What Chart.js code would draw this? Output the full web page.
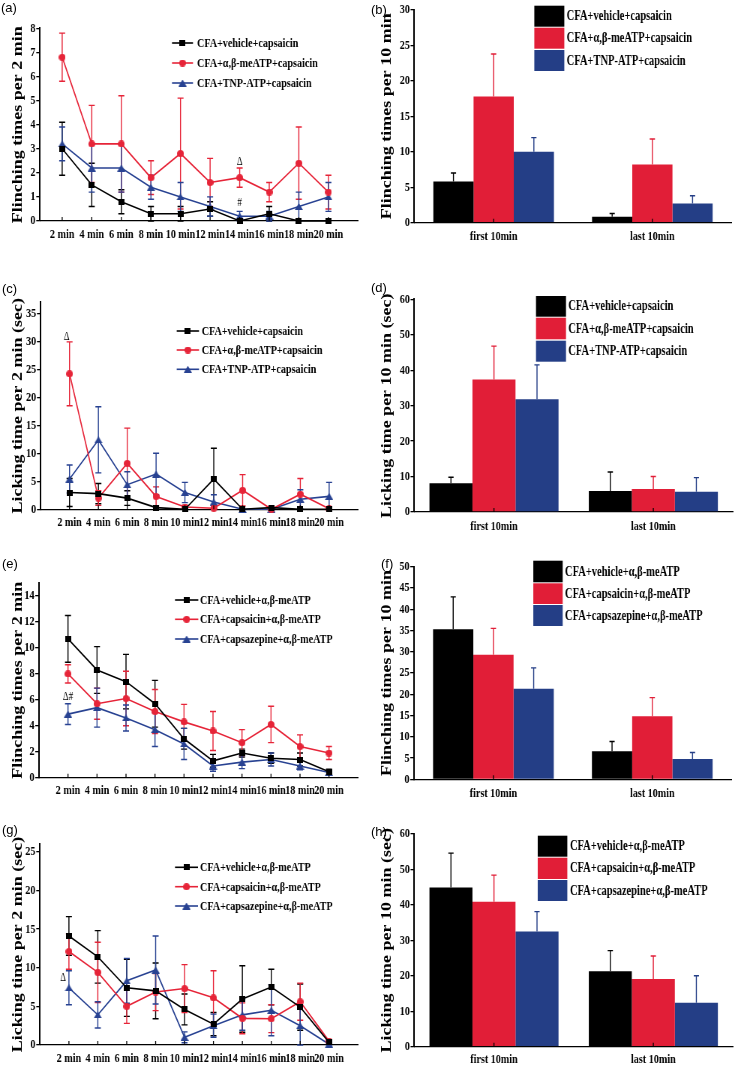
<!DOCTYPE html>
<html><head><meta charset="utf-8">
<script src="https://cdn.jsdelivr.net/npm/chart.js@4.4.0/dist/chart.umd.min.js"></script>
<style>
html,body{margin:0;padding:0;background:#fff;}
body{width:735px;height:1065px;position:relative;overflow:hidden;}
.pl{position:absolute;font-family:'Liberation Sans',Arial,sans-serif;font-size:13px;color:#000;line-height:15px;}
canvas{position:absolute;transform-origin:0 0;}
</style></head><body>
<script>
// ---------------- DATA ----------------
const minutes = [2,4,6,8,10,12,14,16,18,20];
const timeLabels = ['2 min','4 min','6 min','8 min','10 min','12 min','14 min','16 min','18 min','20 min'];
const periodLabels = ['first 10min','last 10min'];
const namesCap = ['CFA+vehicle+capsaicin','CFA+α,β-meATP+capsaicin','CFA+TNP-ATP+capsaicin'];
const namesMe = ['CFA+vehicle+α,β-meATP','CFA+capsaicin+α,β-meATP','CFA+capsazepine+α,β-meATP'];

// (a) flinching per 2 min
const a_vehicle = [3.0,1.5,0.8,0.3,0.3,0.5,0.0,0.3,0.0,0.0];
const a_vehicleErr = [1.1,0.9,0.5,0.3,0.3,0.3,0.0,0.3,0.0,0.0];
const a_meATP = [6.8,3.2,3.2,1.8,2.8,1.6,1.8,1.2,2.4,1.2];
const a_meATPErr = [1.0,1.6,2.0,0.7,2.3,1.0,0.4,0.4,1.5,0.7];
const a_TNP = [3.2,2.2,2.2,1.4,1.0,0.6,0.2,0.2,0.6,1.0];
const a_TNPErr = [0.7,1.0,1.0,0.5,0.6,0.4,0.2,0.2,0.6,0.6];
const a_marks = [{x:14,y:2.46,t:'Δ'},{x:14,y:0.75,t:'#'}];

// (b) flinching per 10 min
const b_vehicle = [5.8,0.85], b_vehicleErr = [1.2,0.45];
const b_meATP = [17.8,8.2], b_meATPErr = [6.0,3.6];
const b_TNP = [10.0,2.7], b_TNPErr = [2.0,1.1];

// (c) licking per 2 min
const c_vehicle = [3.0,2.8,2.0,0.3,0.0,5.4,0.0,0.3,0.0,0.0];
const c_vehicleErr = [2.5,1.8,1.3,0.3,0.0,5.5,0.0,0.2,0.0,0.0];
const c_meATP = [24.2,2.0,8.2,2.3,0.4,0.2,3.4,0.0,2.7,0.1];
const c_meATPErr = [5.7,1.3,6.3,1.7,0.3,0.2,2.8,0.0,2.8,0.1];
const c_TNP = [5.4,12.4,4.4,6.3,3.0,1.3,0.0,0.0,1.8,2.3];
const c_TNPErr = [2.5,5.9,2.3,3.7,1.8,1.3,0.0,0.0,1.7,2.5];
const c_marks = [{x:1.8,y:30.8,t:'Δ'}];

// (d) licking per 10 min
const d_vehicle = [8.1,5.9], d_vehicleErr = [1.7,5.4];
const d_meATP = [37.4,6.5], d_meATPErr = [9.4,3.5];
const d_TNP = [31.8,5.7], d_TNPErr = [9.7,4.0];

// (e) flinching per 2 min, meATP
const e_vehicle = [10.7,8.3,7.4,5.7,3.0,1.3,1.9,1.5,1.4,0.45];
const e_vehicleErr = [1.8,1.8,2.1,1.8,0.8,0.5,0.3,0.4,0.5,0.2];
const e_capsaicin = [8.0,5.7,6.1,5.1,4.3,3.6,2.7,4.1,2.4,1.9];
const e_capsaicinErr = [0.7,1.2,2.1,1.7,1.35,1.5,1.0,1.4,0.9,0.5];
const e_capsazepine = [4.9,5.4,4.6,3.7,2.6,0.9,1.2,1.4,0.9,0.4];
const e_capsazepineErr = [0.8,1.5,1.0,1.3,1.2,0.4,0.5,0.5,0.3,0.2];
const e_marks = [{x:2,y:6.25,t:'Δ#'}];

// (f) flinching per 10 min, meATP
const f_vehicle = [35.3,6.6], f_vehicleErr = [7.6,2.3];
const f_capsaicin = [29.3,14.8], f_capsaicinErr = [6.2,4.4];
const f_capsazepine = [21.3,4.8], f_capsazepineErr = [4.9,1.5];

// (g) licking per 2 min, meATP
const g_vehicle = [14.1,11.4,7.4,7.0,4.6,2.7,5.95,7.5,4.9,0.35];
const g_vehicleErr = [2.5,3.4,3.7,3.6,2.0,1.5,4.3,2.3,3.0,0.2];
const g_capsaicin = [12.1,9.4,5.0,6.85,7.3,6.1,3.45,3.4,5.6,0.5];
const g_capsaicinErr = [2.3,3.9,2.2,2.4,3.1,3.5,2.0,1.8,2.4,0.2];
const g_capsazepine = [7.4,3.9,8.3,9.7,1.0,2.5,3.9,4.5,2.5,0.1];
const g_capsazepineErr = [2.2,1.7,2.9,4.4,0.7,1.5,2.0,3.3,2.5,0.1];
const g_marks = [{x:1.6,y:8.75,t:'Δ'}];

// (h) licking per 10 min, meATP
const h_vehicle = [44.9,21.3], h_vehicleErr = [9.7,5.8];
const h_capsaicin = [40.9,19.1], h_capsaicinErr = [7.5,6.5];
const h_capsazepine = [32.5,12.4], h_capsazepineErr = [5.6,7.6];

// ---------------- STYLE ----------------
const SERIF = "'Liberation Serif','Times New Roman',serif";
const S = 0.75; // horizontal condensing of the figure
const LINE_COL = ['#000000','rgb(230,36,56)','rgb(40,66,146)'];
const BAR_COL = ['#000000','rgb(225,30,55)','rgb(36,62,134)'];
const MARKERS = ['rect','circle','triangle'];

function markerImage(shape, color, dw, dh, sx) {
  const cw = Math.max(1, Math.round(dw / sx)), ch = dh;
  const c = document.createElement('canvas');
  c.width = cw; c.height = ch;
  const g = c.getContext('2d');
  g.fillStyle = color;
  if (shape === 'rect') g.fillRect(0, 0, cw, ch);
  else if (shape === 'circle') { g.beginPath(); g.ellipse(cw/2, ch/2, cw/2, ch/2, 0, 0, Math.PI*2); g.fill(); }
  else { g.beginPath(); g.moveTo(cw/2, 0); g.lineTo(cw, ch); g.lineTo(0, ch); g.closePath(); g.fill(); }
  return c;
}
const MARK_SIZE = {rect:[6,6], circle:[7,7], triangle:[8,7]};

const errPlugin = {
  id: 'errbars',
  beforeDatasetsDraw(chart) {
    const ctx = chart.ctx, ys = chart.scales.y, area = chart.chartArea;
    const isBar = chart.config.type === 'bar';
    chart.data.datasets.forEach((ds, di) => {
      if (!ds.errors) return;
      const meta = chart.getDatasetMeta(di);
      ctx.save();
      ctx.strokeStyle = ds.errColor; ctx.lineWidth = 1.4;
      meta.data.forEach((el, i) => {
        const raw = ds.data[i]; const v = (typeof raw === 'object') ? raw.y : raw;
        const e = ds.errors[i]; if (!e) return;
        const x = el.x;
        const yt = ys.getPixelForValue(v + e);
        const yb = isBar ? ys.getPixelForValue(v) : Math.min(area.bottom, ys.getPixelForValue(v - e));
        const cap = isBar ? 3.5 : 4;
        ctx.beginPath();
        ctx.moveTo(x, yt); ctx.lineTo(x, yb);
        ctx.moveTo(x - cap, yt); ctx.lineTo(x + cap, yt);
        if (!isBar && ys.getPixelForValue(v - e) <= area.bottom) { ctx.moveTo(x - cap, yb); ctx.lineTo(x + cap, yb); }
        ctx.stroke();
      });
      ctx.restore();
    });
  }
};

const decoPlugin = {
  id: 'deco',
  afterDraw(chart, args, o) {
    const ctx = chart.ctx, xs = chart.scales.x, ys = chart.scales.y;
    const area = chart.chartArea;
    ctx.save();
    // inward x ticks
    ctx.strokeStyle = '#000'; ctx.lineWidth = 1.3;
    ctx.beginPath();
    xs.ticks.forEach((t, i) => {
      const px = xs.getPixelForTick(i);
      ctx.moveTo(px, area.bottom); ctx.lineTo(px, area.bottom - 4);
    });
    ctx.stroke();
    // legend
    const lg = o.legend;
    chart.data.datasets.forEach((ds, i) => {
      if (lg.kind === 'line') {
        const y = o.cy(lg.rows[i]);
        const x1 = o.cx(lg.x1), x2 = o.cx(lg.x2);
        ctx.strokeStyle = ds.borderColor; ctx.lineWidth = 1.6;
        ctx.beginPath(); ctx.moveTo(x1, y); ctx.lineTo(x2, y); ctx.stroke();
        const img = ds.pointStyle;
        ctx.drawImage(img, (x1 + x2)/2 - img.width/2, y - img.height/2);
        ctx.fillStyle = '#000';
        ctx.font = 'bold ' + lg.font + 'px ' + SERIF;
        ctx.textBaseline = 'middle'; ctx.textAlign = 'left';
        ctx.fillText(ds.label, o.cx(lg.tx), y + 0.5);
      } else {
        const r = lg.rows[i];
        const x1 = o.cx(lg.x1), x2 = o.cx(lg.x2);
        ctx.fillStyle = ds.backgroundColor;
        ctx.fillRect(x1, o.cy(r[0]), x2 - x1, r[1] - r[0]);
        ctx.fillStyle = '#000';
        ctx.font = 'bold ' + lg.font + 'px ' + SERIF;
        ctx.textBaseline = 'middle'; ctx.textAlign = 'left';
        ctx.fillText(ds.label, o.cx(lg.tx), o.cy((r[0] + r[1]) / 2) + 0.5);
      }
    });
    // annotations
    (o.marks || []).forEach(m => {
      ctx.fillStyle = '#000';
      ctx.font = '12px ' + SERIF;
      ctx.textAlign = 'center'; ctx.textBaseline = 'middle';
      ctx.fillText(m.t, xs.getPixelForValue(m.x), ys.getPixelForValue(m.y));
    });
    ctx.restore();
  }
};

function build(p) {
  const wu = Math.round(p.w / S);
  const sx = p.w / wu;
  const c = document.createElement('canvas');
  c.width = wu; c.height = p.h;
  Object.assign(c.style, {left: p.x + 'px', top: p.y + 'px', width: wu + 'px', height: p.h + 'px', transform: 'scaleX(' + sx + ')'});
  document.body.appendChild(c);
  const L = (p.plot[0] - p.x) / sx, R = (p.plot[2] - p.x) / sx, T = p.plot[1] - p.y, B = p.plot[3] - p.y;
  const cx = px => (px - p.x) / sx, cy = py => py - p.y;
  const isLine = p.kind === 'line';
  const datasets = p.series.map((s, i) => isLine ? {
    label: s.name,
    data: minutes.map((m, k) => ({x: m, y: s.values[k]})),
    errors: s.errors, errColor: LINE_COL[i],
    borderColor: LINE_COL[i], backgroundColor: LINE_COL[i], borderWidth: 1.6,
    pointStyle: markerImage(MARKERS[i], LINE_COL[i], MARK_SIZE[MARKERS[i]][0], MARK_SIZE[MARKERS[i]][1], sx),
    pointRadius: 4, tension: 0, clip: false
  } : {
    label: s.name, data: s.values, errors: s.errors, errColor: BAR_COL[i],
    backgroundColor: BAR_COL[i], borderWidth: 0,
    categoryPercentage: p.catPct, barPercentage: 1
  });
  const step = p.yStep;
  const xFont = {family: SERIF, size: 13.5, weight: 'bold'};
  const yFont = {family: SERIF, size: 13.5, weight: 'bold'};
  const xScale = isLine ? {
    type: 'linear', min: p.xMin, max: p.xMax,
    afterBuildTicks: sc => { sc.ticks = minutes.map(v => ({value: v})); },
    ticks: {callback: v => { const k = minutes.indexOf(v); return k >= 0 ? timeLabels[k] : ''; },
            autoSkip: false, maxRotation: 0, minRotation: 0, color: '#000', font: xFont, padding: p.xPad},
    grid: {display: false, drawTicks: false},
    border: {display: true, color: '#000', width: 1.3},
    afterFit: sc => { sc.height = p.h - B; }
  } : {
    type: 'category', offset: true,
    ticks: {color: '#000', font: xFont, padding: p.xPad, maxRotation: 0, autoSkip: false},
    grid: {display: false, drawTicks: false},
    border: {display: true, color: '#000', width: 1.3},
    afterFit: sc => { sc.height = p.h - B; }
  };
  new Chart(c, {
    type: isLine ? 'line' : 'bar',
    data: {labels: isLine ? undefined : periodLabels, datasets},
    options: {
      responsive: false, animation: false, devicePixelRatio: 1,
      layout: {padding: {left: 0, top: T, right: wu - R, bottom: 0}},
      plugins: {legend: {display: false}, tooltip: {enabled: false},
        deco: {legend: p.legend, marks: p.marks, cx, cy}},
      scales: {
        x: xScale,
        y: {
          type: 'linear', min: 0, max: p.yMax,
          ticks: {stepSize: step, color: '#000', font: yFont, padding: 1},
          afterBuildTicks: sc => {
            const t = [];
            for (let v = 0; v <= p.yMax + 1e-9; v += step) t.push({value: Math.round(v * 1000) / 1000});
            sc.ticks = t;
          },
          grid: {display: true, drawOnChartArea: false, drawTicks: true, tickLength: 5, color: '#000', lineWidth: 1.3},
          border: {display: true, color: '#000', width: 2},
          title: {display: true, text: p.title, color: '#000', font: {family: SERIF, size: 18, weight: 'bold'}, padding: {top: p.titlePad, bottom: 0}},
          afterFit: sc => { sc.width = L; }
        }
      }
    },
    plugins: [errPlugin, decoPlugin]
  });
  const lab = document.createElement('div');
  lab.className = 'pl'; lab.textContent = p.label;
  lab.style.left = p.labelPos[0] + 'px'; lab.style.top = p.labelPos[1] + 'px';
  document.body.appendChild(lab);
}

const ser = (names, vals, errs) => names.map((n, i) => ({name: n, values: vals[i], errors: errs[i]}));

const panels = [
  {label: '(a)', labelPos: [1, 0], kind: 'line', x: 0, y: 0, w: 366, h: 250, plot: [40, 28.3, 358, 221],
   yMax: 8, yStep: 1, xMin: 0.5, xMax: 22, xPad: 5, titlePad: 13.5, title: 'Flinching times per 2 min',
   series: ser(namesCap, [a_vehicle, a_meATP, a_TNP], [a_vehicleErr, a_meATPErr, a_TNPErr]),
   legend: {kind: 'line', x1: 172, x2: 193, tx: 197, rows: [43, 63, 83], font: 13.5}, marks: a_marks},
  {label: '(b)', labelPos: [371, 2], kind: 'bar', x: 369, y: 0, w: 366, h: 250, plot: [414.3, 10, 731.7, 222.7],
   yMax: 30, yStep: 5, catPct: 0.76, xPad: 6, titlePad: 13.5, title: 'Flinching times per 10 min',
   series: ser(namesCap, [b_vehicle, b_meATP, b_TNP], [b_vehicleErr, b_meATPErr, b_TNPErr]),
   legend: {kind: 'box', x1: 534.3, x2: 564.3, tx: 566.7, rows: [[5.7, 26.7], [27.7, 48.7], [50, 71]], font: 14}},
  {label: '(c)', labelPos: [2, 281], kind: 'line', x: 0, y: 270, w: 366, h: 262, plot: [40.7, 302.1, 358, 509.3],
   yMax: 37, yStep: 5, xMin: 0, xMax: 22, xPad: 5, titlePad: 13.5, title: 'Licking time per 2 min (sec)',
   series: ser(namesCap, [c_vehicle, c_meATP, c_TNP], [c_vehicleErr, c_meATPErr, c_TNPErr]),
   legend: {kind: 'line', x1: 176.7, x2: 199, tx: 201.7, rows: [331, 350, 369.3], font: 13.5}, marks: c_marks},
  {label: '(d)', labelPos: [371, 280], kind: 'bar', x: 369, y: 270, w: 366, h: 262, plot: [414.3, 299.3, 733, 512],
   yMax: 60, yStep: 10, catPct: 0.81, xPad: 6, titlePad: 13.5, title: 'Licking time per 10 min (sec)',
   series: ser(namesCap, [d_vehicle, d_meATP, d_TNP], [d_vehicleErr, d_meATPErr, d_TNPErr]),
   legend: {kind: 'box', x1: 536, x2: 566, tx: 568.3, rows: [[296, 316.7], [317.7, 339.3], [340.7, 361.7]], font: 14}},
  {label: '(e)', labelPos: [2, 556], kind: 'line', x: 0, y: 545, w: 366, h: 255, plot: [39, 583, 358, 777.7],
   yMax: 15, yStep: 2, xMin: 0, xMax: 22, xPad: 5, titlePad: 13.5, title: 'Flinching times per 2 min',
   series: ser(namesMe, [e_vehicle, e_capsaicin, e_capsazepine], [e_vehicleErr, e_capsaicinErr, e_capsazepineErr]),
   legend: {kind: 'line', x1: 175, x2: 198.3, tx: 200, rows: [600, 619.3, 639], font: 13.5}, marks: e_marks},
  {label: '(f)', labelPos: [381, 556], kind: 'bar', x: 369, y: 545, w: 366, h: 255, plot: [414, 566.7, 731.7, 779.3],
   yMax: 50, yStep: 5, catPct: 0.76, xPad: 6, titlePad: 13.5, title: 'Flinching times per 10 min',
   series: ser(namesMe, [f_vehicle, f_capsaicin, f_capsazepine], [f_vehicleErr, f_capsaicinErr, f_capsazepineErr]),
   legend: {kind: 'box', x1: 533.3, x2: 562.7, tx: 565, rows: [[560.7, 582.3], [583.3, 604], [605, 626]], font: 14}},
  {label: '(g)', labelPos: [2, 822], kind: 'line', x: 0, y: 810, w: 366, h: 255, plot: [40, 844, 358, 1045],
   yMax: 26, yStep: 5, xMin: 0, xMax: 22, xPad: 5, titlePad: 13.5, title: 'Licking time per 2 min (sec)',
   series: ser(namesMe, [g_vehicle, g_capsaicin, g_capsazepine], [g_vehicleErr, g_capsaicinErr, g_capsazepineErr]),
   legend: {kind: 'line', x1: 175, x2: 198, tx: 200, rows: [867.3, 886.7, 906], font: 13.5}, marks: g_marks},
  {label: '(h)', labelPos: [371, 824], kind: 'bar', x: 369, y: 810, w: 366, h: 255, plot: [414.3, 834, 733, 1046.7],
   yMax: 60, yStep: 10, catPct: 0.81, xPad: 5, titlePad: 13.5, title: 'Licking time per 10 min (sec)',
   series: ser(namesMe, [h_vehicle, h_capsaicin, h_capsazepine], [h_vehicleErr, h_capsaicinErr, h_capsazepineErr]),
   legend: {kind: 'box', x1: 537.7, x2: 567.3, tx: 570, rows: [[835.7, 856.7], [857.7, 879], [880, 901]], font: 14}}
];
panels.forEach(build);
</script>
</body></html>
